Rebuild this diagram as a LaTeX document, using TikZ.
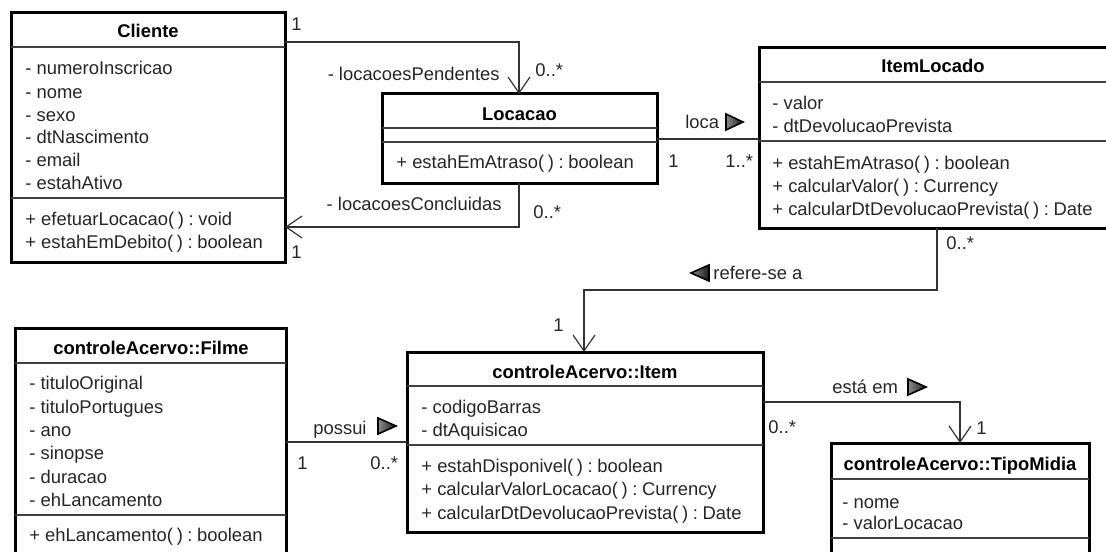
\documentclass[tikz,border=0pt]{standalone}
\usepackage{fontspec}
\setmainfont{Liberation Sans}
\usetikzlibrary{arrows.meta,calc}

% operation signature tail: "( ) : type" with tight spacing
\newcommand\opret[1]{(\kern0.2em)\kern0.25em:\kern0.25em#1}

\tikzset{
  classbox/.style={draw=black, line width=1.5pt, fill=white, rectangle,
    inner sep=0pt, outer sep=0pt, anchor=north west},
  divider/.style={draw=black!75, line width=0.6pt},
  member/.style={anchor=base west, inner sep=0pt, text=black!85,
    font=\fontsize{9.2}{11}\selectfont},
  ctitle/.style={anchor=base, inner sep=0pt, text=black,
    font=\fontsize{9.2}{11}\selectfont\bfseries},
  assoc/.style={draw=black!80, line width=0.6pt},
  nav/.style={assoc, -{Straight Barb[length=8pt,width=11pt]}},
  lbl/.style={anchor=base west, inner sep=0pt, text=black!85,
    font=\fontsize{9.2}{11}\selectfont},
  lblr/.style={lbl, anchor=base east},
  dirtri/.style={draw=black, line width=0.8pt, left color=black!45, right color=black!90},
}

\begin{document}
\begin{tikzpicture}[x=0.5pt,y=-0.5pt]
\useasboundingbox (0,0) rectangle (1106,551);
\clip (0,0) rectangle (1106,551);
\fill[white] (0,0) rectangle (1106,551);

% ---------- Cliente ----------
\node[classbox, minimum width=274*0.5pt, minimum height=249*0.5pt] (cliente) at (11,13) {};
\draw[divider] ($(cliente.north west)+(0,34)$) -- ($(cliente.north east)+(0,34)$);
\draw[divider] ($(cliente.north west)+(0,185)$) -- ($(cliente.north east)+(0,185)$);
\node[ctitle] (cl-t) at (148,38) {Cliente};
\node[member] (cl-a1) at (25,75) {- numeroInscricao};
\node[member] (cl-a2) at (25,98) {- nome};
\node[member] (cl-a3) at (25,121) {- sexo};
\node[member] (cl-a4) at (25,143) {- dtNascimento};
\node[member] (cl-a5) at (25,166) {- email};
\node[member] (cl-a6) at (25,189) {- estahAtivo};
\node[member] (cl-m1) at (25,225) {+ efetuarLocacao\opret{void}};
\node[member] (cl-m2) at (25,248) {+ estahEmDebito\opret{boolean}};

% ---------- Locacao ----------
\node[classbox, minimum width=275*0.5pt, minimum height=89*0.5pt] (locacao) at (382,94) {};
\draw[divider] ($(locacao.north west)+(0,34)$) -- ($(locacao.north east)+(0,34)$);
\draw[divider] ($(locacao.north west)+(0,48)$) -- ($(locacao.north east)+(0,48)$);
\node[ctitle] (lo-t) at (519.5,120) {Locacao};
\node[member] (lo-m1) at (396,168) {+ estahEmAtraso\opret{boolean}};

% ---------- ItemLocado ----------
\node[classbox, minimum width=349*0.5pt, minimum height=180*0.5pt] (itemlocado) at (759,48) {};
\draw[divider] ($(itemlocado.north west)+(0,34)$) -- ($(itemlocado.north east)+(0,34)$);
\draw[divider] ($(itemlocado.north west)+(0,93)$) -- ($(itemlocado.north east)+(0,93)$);
\node[ctitle] (il-t) at (933,73) {ItemLocado};
\node[member] (il-a1) at (772,109) {- valor};
\node[member] (il-a2) at (772,133) {- dtDevolucaoPrevista};
\node[member] (il-m1) at (772,169) {+ estahEmAtraso\opret{boolean}};
\node[member] (il-m2) at (772,192) {+ calcularValor\opret{Currency}};
\node[member] (il-m3) at (772,215) {+ calcularDtDevolucaoPrevista\opret{Date}};

% ---------- controleAcervo::Item ----------
\node[classbox, minimum width=356*0.5pt, minimum height=180*0.5pt] (item) at (407,352) {};
\draw[divider] ($(item.north west)+(0,34)$) -- ($(item.north east)+(0,34)$);
\draw[divider] ($(item.north west)+(0,93)$) -- ($(item.north east)+(0,93)$);
\node[ctitle] (it-t) at (585,378) {controleAcervo::Item};
\node[member] (it-a1) at (421,413) {- codigoBarras};
\node[member] (it-a2) at (421,436) {- dtAquisicao};
\node[member] (it-m1) at (421,472) {+ estahDisponivel\opret{boolean}};
\node[member] (it-m2) at (421,495) {+ calcularValorLocacao\opret{Currency}};
\node[member] (it-m3) at (421,519) {+ calcularDtDevolucaoPrevista\opret{Date}};

% ---------- controleAcervo::Filme ----------
\node[classbox, minimum width=271*0.5pt, minimum height=240*0.5pt] (filme) at (15,328) {};
\draw[divider] ($(filme.north west)+(0,35)$) -- ($(filme.north east)+(0,35)$);
\draw[divider] ($(filme.north west)+(0,187)$) -- ($(filme.north east)+(0,187)$);
\node[ctitle] (fi-t) at (151,354) {controleAcervo::Filme};
\node[member] (fi-a1) at (29,389) {- tituloOriginal};
\node[member] (fi-a2) at (29,413) {- tituloPortugues};
\node[member] (fi-a3) at (29,436) {- ano};
\node[member] (fi-a4) at (29,459) {- sinopse};
\node[member] (fi-a5) at (29,483) {- duracao};
\node[member] (fi-a6) at (29,506) {- ehLancamento};
\node[member] (fi-m1) at (29,541) {+ ehLancamento\opret{boolean}};

% ---------- controleAcervo::TipoMidia ----------
\node[classbox, minimum width=258*0.5pt, minimum height=130*0.5pt] (tipomidia) at (831,443) {};
\draw[divider] ($(tipomidia.north west)+(0,36)$) -- ($(tipomidia.north east)+(0,36)$);
\draw[divider] ($(tipomidia.north west)+(0,95)$) -- ($(tipomidia.north east)+(0,95)$);
\node[ctitle] (tm-t) at (960,470) {controleAcervo::TipoMidia};
\node[member] (tm-a1) at (842,508) {- nome};
\node[member] (tm-a2) at (842,529) {- valorLocacao};

% ---------- Cliente -> Locacao (pendentes) ----------
\draw[nav] ($(cliente.north east)+(0,29)$) -| ($(locacao.north west)+(137,0)$);
\node[lbl] (m-pend-1) at (291,31) {1};
\node[lblr] (r-pend) at (500,81) {- locacoesPendentes};
\node[lbl] (m-pend-n) at (535,76) {0..*};

% ---------- Locacao -> Cliente (concluidas) ----------
\draw[nav] ($(locacao.south west)+(137,0)$) |- ($(cliente.north east)+(0,214)$);
\node[lblr] (r-conc) at (502,210) {- locacoesConcluidas};
\node[lbl] (m-conc-n) at (533,218) {0..*};
\node[lbl] (m-conc-1) at (291,258) {1};

% ---------- loca ----------
\draw[assoc] ($(locacao.north east)+(0,45)$) -- ($(itemlocado.north west)+(0,91)$);
\node[lbl] (n-loca) at (685,128) {loca};
\draw[dirtri] (726,114) -- (743,122) -- (726,130) -- cycle;
\node[lbl] (m-loca-1) at (668,167) {1};
\node[lbl] (m-loca-n) at (725,167) {1..*};

% ---------- refere-se a ----------
\draw[nav] ($(itemlocado.south west)+(178,0)$) -- ++(0,62) -| ($(item.north west)+(177,0)$);
\node[lbl] (m-ref-n) at (946,249) {0..*};
\draw[dirtri] (709,265) -- (691,273) -- (709,281) -- cycle;
\node[lbl] (n-ref) at (713,279) {refere-se a};
\node[lbl] (m-ref-1) at (553,331) {1};

% ---------- possui ----------
\draw[assoc] ($(filme.north east)+(0,114)$) -- ($(item.north west)+(0,90)$);
\node[lbl] (n-possui) at (313,434) {possui};
\draw[dirtri] (378,418) -- (396,426) -- (378,434) -- cycle;
\node[lbl] (m-pos-1) at (297,469) {1};
\node[lbl] (m-pos-n) at (370,469) {0..*};

% ---------- está em ----------
\draw[nav] ($(item.north east)+(0,50)$) -| ($(tipomidia.north west)+(129,0)$);
\node[lbl] (n-esta) at (832,393) {está em};
\draw[dirtri] (908,379) -- (926,387) -- (908,395) -- cycle;
\node[lbl] (m-esta-n) at (768,433) {0..*};
\node[lbl] (m-esta-1) at (976,434) {1};

\end{tikzpicture}
\end{document}
